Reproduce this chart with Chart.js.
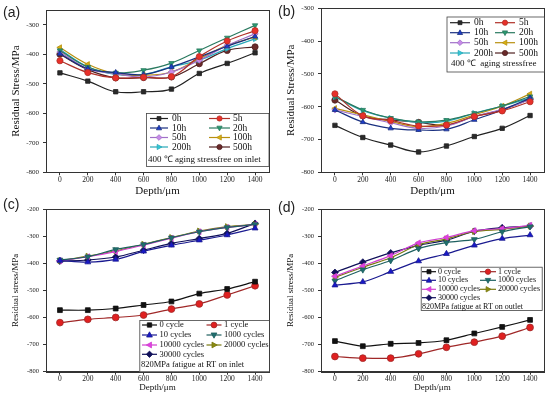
<!DOCTYPE html>
<html>
<head>
<meta charset="utf-8">
<script src="https://cdn.jsdelivr.net/npm/chart.js@4.4.0/dist/chart.umd.min.js"></script>
<style>
body{margin:0;background:#fff;width:550px;height:397px;position:relative;overflow:hidden}
.panel{position:absolute}
.tag{position:absolute;font-family:"Liberation Sans",Arial,sans-serif;font-size:14px;color:#222}
</style>
</head>
<body>
<div class="panel" style="left:0;top:0"><canvas id="ca" width="275" height="197"></canvas></div>
<div class="panel" style="left:275px;top:0"><canvas id="cb" width="275" height="197"></canvas></div>
<div class="panel" style="left:0;top:197px"><canvas id="cc" width="275" height="200"></canvas></div>
<div class="panel" style="left:275px;top:197px"><canvas id="cd" width="275" height="200"></canvas></div>
<div class="tag" style="left:3px;top:4px">(a)</div>
<div class="tag" style="left:278px;top:3px">(b)</div>
<div class="tag" style="left:3px;top:196px">(c)</div>
<div class="tag" style="left:278px;top:199px">(d)</div>
<script>
// depths (µm) and tick values
const depth = [0, 200, 400, 600, 800, 1000, 1200, 1400];
const xTicks = [0, 200, 400, 600, 800, 1000, 1200, 1400];
const yTicksAB = [-800, -700, -600, -500, -400, -300];
const yTicksCD = [-800, -700, -600, -500, -400, -300, -200];

// (a) 400℃ aging, inlet
const agingNames = ['0h', '5h', '10h', '20h', '50h', '100h', '200h', '500h'];
const agingInlet = [
  [-463, -491, -527, -527, -518, -465, -431, -395],
  [-422, -462, -480, -478, -476, -408, -355, -320],
  [-398, -449, -462, -469, -443, -409, -373, -340],
  [-387, -443, -463, -454, -430, -387, -344, -302],
  [-392, -449, -466, -477, -460, -420, -370, -331],
  [-377, -434, -466, -471, -460, -415, -370, -342],
  [-384, -443, -468, -468, -443, -420, -381, -348],
  [-400, -452, -480, -479, -477, -432, -387, -375]
];
// (b) 400℃ aging, stressfree
const agingFree = [
  [-657, -694, -717, -738, -720, -691, -666, -627],
  [-561, -628, -642, -659, -656, -630, -613, -585],
  [-610, -647, -666, -671, -669, -640, -610, -574],
  [-569, -610, -635, -646, -641, -620, -598, -569],
  [-610, -630, -649, -666, -659, -630, -608, -579],
  [-605, -625, -645, -661, -651, -625, -598, -561],
  [-570, -612, -635, -648, -644, -620, -598, -574],
  [-580, -628, -640, -648, -656, -630, -610, -577]
];
// (c) 820MPa fatigue, inlet
const cycleNames = ['0 cycle', '1 cycle', '10 cycles', '1000 cycles', '10000 cycles', '20000 cycles', '30000 cycles'];
const fatigueInlet = [
  [-573, -573, -567, -554, -541, -512, -495, -468],
  [-619, -607, -600, -591, -569, -550, -517, -483],
  [-390, -396, -386, -356, -334, -315, -296, -271],
  [-388, -376, -349, -331, -306, -284, -268, -257],
  [-391, -376, -357, -333, -308, -284, -268, -257],
  [-391, -374, -354, -330, -305, -281, -265, -257],
  [-392, -388, -377, -352, -327, -309, -290, -253]
];
// (d) 820MPa fatigue, outlet
const fatigueOutlet = [
  [-687, -706, -697, -694, -684, -659, -635, -609],
  [-744, -750, -750, -734, -710, -691, -669, -637],
  [-481, -469, -431, -392, -365, -334, -309, -296],
  [-465, -424, -390, -346, -324, -312, -284, -265],
  [-448, -410, -372, -325, -305, -280, -272, -260],
  [-452, -415, -380, -332, -310, -283, -275, -263],
  [-434, -396, -362, -334, -315, -282, -269, -263]
];

const agingStyle = [
  { fill: '#2a2a2a', line: '#222222', shape: 'rect', rot: 0 },
  { fill: '#e8302a', line: '#b03028', shape: 'circle', rot: 0 },
  { fill: '#1c3cc8', line: '#1a3080', shape: 'triangle', rot: 0 },
  { fill: '#2a9a70', line: '#2a7a60', shape: 'triangle', rot: 180 },
  { fill: '#c88ae8', line: '#a070c8', shape: 'rectRot', rot: 0 },
  { fill: '#d8b010', line: '#b89010', shape: 'triangle', rot: 270 },
  { fill: '#30c8d8', line: '#28a8b8', shape: 'triangle', rot: 90 },
  { fill: '#6a2a2a', line: '#502020', shape: 'circle', rot: 0 }
];
const cycleStyle = [
  { fill: '#111111', line: '#111111', shape: 'rect', rot: 0 },
  { fill: '#e02020', line: '#a02828', shape: 'circle', rot: 0 },
  { fill: '#1818c8', line: '#1a1a90', shape: 'triangle', rot: 0 },
  { fill: '#1e6e6e', line: '#1e6060', shape: 'triangle', rot: 180 },
  { fill: '#e040e0', line: '#d040d0', shape: 'triangle', rot: 270 },
  { fill: '#8a8a10', line: '#7a7a10', shape: 'triangle', rot: 90 },
  { fill: '#10105a', line: '#10105a', shape: 'rectRot', rot: 0 }
];

const serif = '"Liberation Serif", "Times New Roman", serif';

function drawMarker(ctx, st, x, y, r) {
  ctx.save();
  ctx.translate(x, y);
  ctx.rotate(st.rot * Math.PI / 180);
  ctx.beginPath();
  if (st.shape === 'rect') {
    ctx.rect(-r * 0.75, -r * 0.75, r * 1.5, r * 1.5);
  } else if (st.shape === 'circle') {
    ctx.arc(0, 0, r, 0, Math.PI * 2);
  } else if (st.shape === 'triangle') {
    ctx.moveTo(0, -r * 1.1);
    ctx.lineTo(r, r * 0.7);
    ctx.lineTo(-r, r * 0.7);
    ctx.closePath();
  } else {
    ctx.moveTo(0, -r * 1.1);
    ctx.lineTo(r * 1.1, 0);
    ctx.lineTo(0, r * 1.1);
    ctx.lineTo(-r * 1.1, 0);
    ctx.closePath();
  }
  ctx.fillStyle = st.fill;
  ctx.fill();
  ctx.strokeStyle = st.line;
  ctx.lineWidth = 0.8;
  ctx.stroke();
  ctx.restore();
}

// frame around plot
function framePlugin() {
  return {
    id: 'frame',
    afterDatasetsDraw(chart) {
      const a = chart.chartArea, ctx = chart.ctx;
      ctx.save();
      ctx.strokeStyle = '#333';
      ctx.lineWidth = 1;
      ctx.strokeRect(Math.round(a.left) + 0.5, Math.round(a.top) + 0.5, Math.round(a.right - a.left), Math.round(a.bottom - a.top));
      ctx.restore();
    }
  };
}

// legend box inside the plot
function legendPlugin(cfg, names, styles) {
  return {
    id: 'boxLegend',
    afterDraw(chart) {
      const ctx = chart.ctx;
      const b = cfg.box;
      ctx.save();
      ctx.fillStyle = '#fff';
      ctx.fillRect(b[0], b[1], b[2] - b[0], b[3] - b[1]);
      ctx.strokeStyle = '#444';
      ctx.lineWidth = 0.8;
      ctx.strokeRect(b[0] + 0.5, b[1] + 0.5, b[2] - b[0], b[3] - b[1]);
      ctx.font = cfg.font + 'px ' + serif;
      ctx.textBaseline = 'middle';
      ctx.fillStyle = '#111';
      names.forEach((n, i) => {
        const row = Math.floor(i / 2), col = cfg.cols[i % 2];
        const y = cfg.rows[row];
        ctx.strokeStyle = styles[i].line;
        ctx.lineWidth = 1.2;
        ctx.beginPath();
        ctx.moveTo(col.x1, y);
        ctx.lineTo(col.x2, y);
        ctx.stroke();
        drawMarker(ctx, styles[i], (col.x1 + col.x2) / 2, y, cfg.r);
        ctx.fillStyle = '#111';
        ctx.fillText(n, col.lx, y);
      });
      ctx.font = cfg.tfont + 'px ' + serif;
      ctx.fillText(cfg.text, cfg.tx, cfg.ty);
      ctx.restore();
    }
  };
}

function makeChart(id, names, values, styles, p) {
  const datasets = values.map((vals, i) => ({
    label: names[i],
    data: vals.map((v, j) => ({ x: depth[j], y: v })),
    showLine: true,
    borderColor: styles[i].line,
    borderWidth: 1.2,
    backgroundColor: styles[i].fill,
    pointBackgroundColor: styles[i].fill,
    pointBorderColor: styles[i].line,
    pointBorderWidth: 0.8,
    pointStyle: styles[i].shape,
    pointRotation: styles[i].rot,
    pointRadius: p.r + 0.5,
    tension: p.tension
  }));
  return new Chart(document.getElementById(id), {
    type: 'scatter',
    data: { datasets: datasets },
    options: {
      responsive: false,
      animation: false,
      devicePixelRatio: 1,
      layout: { padding: { top: p.top, right: 6, left: 0, bottom: 0 } },
      plugins: { legend: { display: false }, tooltip: { enabled: false } },
      scales: {
        x: {
          type: 'linear', min: -100, max: 1500,
          afterBuildTicks: s => { s.ticks = xTicks.map(v => ({ value: v })); },
          afterFit: s => { s.height = p.xh; },
          grid: { drawOnChartArea: false, tickLength: 3, color: '#333' },
          border: { color: '#333' },
          ticks: { font: { family: serif, size: 7.5 }, color: '#222', padding: 0, maxRotation: 0, callback: v => String(v) },
          title: { display: true, text: 'Depth/μm', font: { family: serif, size: p.xtSize }, color: '#111', padding: { top: 0, bottom: p.xtPad } }
        },
        y: {
          min: -800, max: p.ymax,
          afterBuildTicks: s => { s.ticks = p.yTicks.map(v => ({ value: v })); },
          afterFit: s => { s.width = 46; },
          grid: { drawOnChartArea: false, tickLength: 3, color: '#333' },
          border: { color: '#333' },
          ticks: { font: { family: serif, size: p.ytSize }, color: '#222', padding: 4, callback: v => String(v) },
          title: { display: true, text: p.ytitle, font: { family: serif, size: p.yTitleSize }, color: '#111', padding: { top: p.yTitlePad, bottom: 0 } }
        }
      }
    },
    plugins: [framePlugin(), legendPlugin(p.legend, names, styles)]
  });
}

makeChart('ca', agingNames, agingInlet, agingStyle, {
  top: 10, xh: 24.7, ymax: -250, yTicks: yTicksAB, r: 2.6, tension: 0.4,
  ytitle: 'Residual Stress/MPa', yTitleSize: 11, yTitlePad: 10, ytSize: 7, xtSize: 11, xtPad: -1,
  legend: {
    box: [146, 113, 268.5, 166], rows: [118.5, 128, 137.5, 147], font: 9.5, tfont: 9, r: 2.6,
    cols: [{ x1: 150, x2: 168, lx: 172 }, { x1: 209, x2: 230, lx: 233 }],
    text: '400 ℃ aging stressfree on inlet', tx: 148, ty: 159.5
  }
});
makeChart('cb', agingNames, agingFree, agingStyle, {
  top: 8, xh: 24.7, ymax: -300, yTicks: yTicksAB, r: 2.6, tension: 0.4,
  ytitle: 'Residual Stress/MPa', yTitleSize: 11, yTitlePad: 10, ytSize: 7, xtSize: 11, xtPad: -1,
  legend: {
    box: [171.5, 16.5, 269, 71.5], rows: [22.7, 32.7, 42.7, 53], font: 9.5, tfont: 9, r: 2.6,
    cols: [{ x1: 175, x2: 195, lx: 199 }, { x1: 220, x2: 240, lx: 244 }],
    text: '400 ℃  aging stressfree', tx: 176, ty: 63.3
  }
});
makeChart('cc', cycleNames, fatigueInlet, cycleStyle, {
  top: 12, xh: 25.3, ymax: -200, yTicks: yTicksCD, r: 2.9, tension: 0.3,
  ytitle: 'Residual stress/MPa', yTitleSize: 9, yTitlePad: 10, ytSize: 6.5, xtSize: 9, xtPad: 4,
  legend: {
    box: [139.3, 123, 269, 174.5], rows: [128, 138, 148, 157.3], font: 8.5, tfont: 8.5, r: 2.9,
    cols: [{ x1: 142, x2: 157, lx: 159.5 }, { x1: 206.5, x2: 221.5, lx: 224 }],
    text: '820MPa fatigue at RT on inlet', tx: 141, ty: 168
  }
});
makeChart('cd', cycleNames, fatigueOutlet, cycleStyle, {
  top: 12, xh: 25.3, ymax: -200, yTicks: yTicksCD, r: 2.9, tension: 0.3,
  ytitle: 'Residual stress/MPa', yTitleSize: 9, yTitlePad: 10, ytSize: 6.5, xtSize: 9, xtPad: 4,
  legend: {
    box: [145.7, 69.7, 266.7, 113], rows: [74.7, 83.3, 92.3, 100.7], font: 8, tfont: 8, r: 2.7,
    cols: [{ x1: 147, x2: 161, lx: 163 }, { x1: 205, x2: 221, lx: 223 }],
    text: '820MPa fatigue at RT on outlet', tx: 147, ty: 109.5
  }
});
</script>
</body>
</html>
